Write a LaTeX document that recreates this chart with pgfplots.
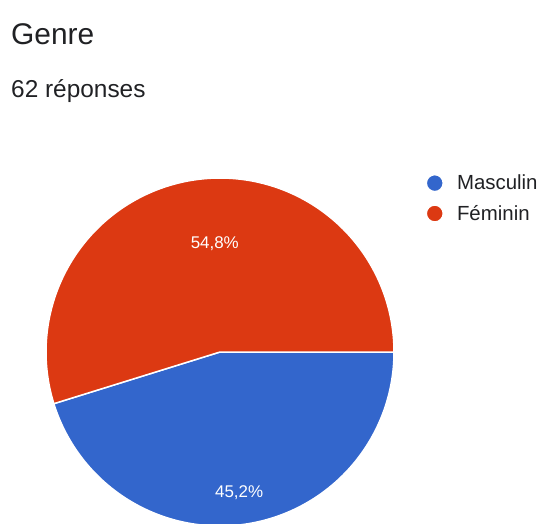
\documentclass[border=0pt]{standalone}
\usepackage{pgfplots}
\pgfplotsset{compat=1.18}
\usepackage{pgfplotstable}
\usepackage{fontspec}
\setmainfont{Liberation Sans}
\definecolor{gblue}{HTML}{3366CC}
\definecolor{gred}{HTML}{DC3912}
\definecolor{gtext}{HTML}{202124}
\pgfplotstableread{
value
45.2
54.8
}\piedata
\begin{document}
\begin{tikzpicture}
\useasboundingbox (0,0) rectangle (538bp,-524bp);
\node[anchor=base west, inner sep=0, font=\fontsize{30}{36}\selectfont, text=gtext] at (11bp,-44bp) {Genre};
\node[anchor=base west, inner sep=0, font=\fontsize{24.5}{30}\selectfont, text=gtext] at (11bp,-97bp) {62 réponses};
\pgfplotstablegetelem{0}{value}\of\piedata
\pgfmathsetmacro{\aM}{3.6*\pgfplotsretval}
\begin{axis}[
  at={(220bp,-352bp)}, anchor=origin,
  hide axis, x=174bp, y=174bp,
  xmin=-1, xmax=1, ymin=-1, ymax=1,
  clip=false,
  legend style={draw=none, fill=none, at={(axis cs:1.18,1.03)}, anchor=north west,
    font=\fontsize{20.5}{24}\selectfont, text=gtext, row sep=10bp, inner sep=0pt,
    /tikz/every odd column/.append style={column sep=11bp}},
  legend cell align=left,
  legend image code/.code={\fill[#1] (4bp,0bp) circle (8.5bp);},
]
\addplot[fill=gblue, draw=white, line width=1.5bp, domain=-\aM:0, samples=181] ({cos(x)},{sin(x)}) -- (0,0) -- cycle;
\addlegendentry{Masculin}
\addplot[fill=gred, draw=white, line width=1.5bp, domain=0:360-\aM, samples=181] ({cos(x)},{sin(x)}) -- (0,0) -- cycle;
\addlegendentry{Féminin}
\node[text=white, font=\fontsize{17}{20}\selectfont] at (axis cs:-0.03,0.62) {54,8\%};
\node[text=white, font=\fontsize{17}{20}\selectfont] at (axis cs:0.11,-0.81) {45,2\%};
\end{axis}
\end{tikzpicture}
\end{document}
